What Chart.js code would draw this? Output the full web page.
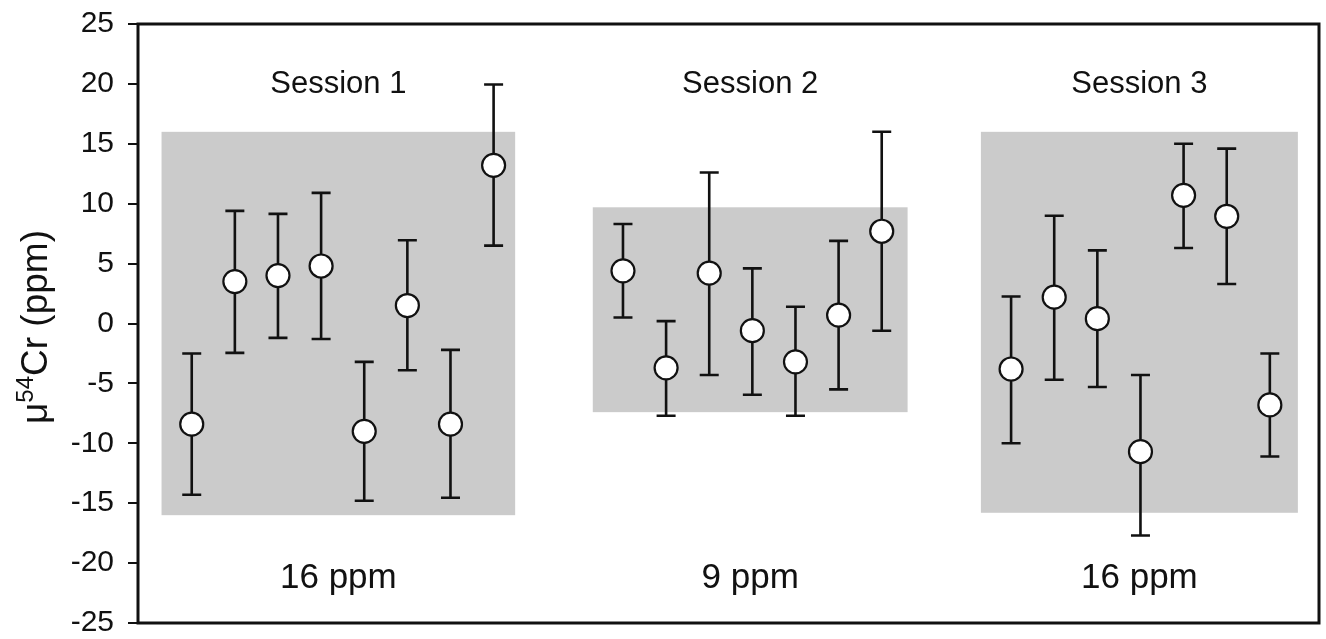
<!DOCTYPE html>
<html>
<head>
<meta charset="utf-8">
<script src="https://cdn.jsdelivr.net/npm/chart.js@4.4.1/dist/chart.umd.min.js"></script>
<style>
  html, body { margin: 0; padding: 0; background: #fff; }
  #wrap { width: 1326px; height: 639px; }
</style>
</head>
<body>
<div id="wrap"><canvas id="c" width="1326" height="639"></canvas></div>
<script>
// ---- data ----
const xPos = [1, 2, 3, 4, 5, 6, 7, 8, 11, 12, 13, 14, 15, 16, 17, 20, 21, 22, 23, 24, 25, 26];
const mu54Cr = [-8.4, 3.5, 4.0, 4.8, -9.0, 1.5, -8.4, 13.2,
                4.4, -3.7, 4.2, -0.6, -3.2, 0.7, 7.7,
                -3.8, 2.2, 0.4, -10.7, 10.7, 8.95, -6.8];
const errUpper = [-2.5, 9.4, 9.15, 10.9, -3.2, 6.95, -2.2, 19.95,
                  8.3, 0.2, 12.6, 4.6, 1.4, 6.9, 16.0,
                  2.25, 9.0, 6.1, -4.3, 15.0, 14.6, -2.5];
const errLower = [-14.3, -2.45, -1.2, -1.3, -14.8, -3.9, -14.55, 6.5,
                  0.5, -7.7, -4.3, -5.95, -7.7, -5.5, -0.6,
                  -10.0, -4.7, -5.3, -17.7, 6.3, 3.3, -11.1];
const sessionLabels = ['Session 1', 'Session 2', 'Session 3'];
const reproLabels = ['16 ppm', '9 ppm', '16 ppm'];
const boxFrom = [0.3, 10.3, 19.3];
const boxTo = [8.5, 17.6, 26.65];
const boxHigh = [16, 9.7, 16];
const boxLow = [-16, -7.4, -15.8];
const yTickValues = [-25, -20, -15, -10, -5, 0, 5, 10, 15, 20, 25];

// ---- layout constants ----
const SESSION_LABEL_Y = 19.2;   // baseline, data units
const REPRO_LABEL_Y = -22.05;   // baseline, data units
const INK = '#111';
const FONT = '"Liberation Sans", Arial, Helvetica, sans-serif';

const points = xPos.map((x, i) => ({ x: x, y: mu54Cr[i] }));

function zeroPad(scale) {
  scale.paddingTop = 0; scale.paddingBottom = 0;
  scale.paddingLeft = 0; scale.paddingRight = 0;
}

const decorPlugin = {
  id: 'decor',
  beforeDatasetsDraw(chart) {
    const { ctx, scales: { x, y } } = chart;
    ctx.save();
    ctx.fillStyle = '#cbcbcb';
    for (let i = 0; i < boxFrom.length; i++) {
      const l = x.getPixelForValue(boxFrom[i]);
      const r = x.getPixelForValue(boxTo[i]);
      const t = y.getPixelForValue(boxHigh[i]);
      const b = y.getPixelForValue(boxLow[i]);
      ctx.fillRect(l, t, r - l, b - t);
    }
    ctx.strokeStyle = INK;
    ctx.lineWidth = 2.6;
    const cap = 9.5;
    for (let i = 0; i < xPos.length; i++) {
      const px = x.getPixelForValue(xPos[i]);
      const pt = y.getPixelForValue(errUpper[i]);
      const pb = y.getPixelForValue(errLower[i]);
      ctx.beginPath();
      ctx.moveTo(px, pt); ctx.lineTo(px, pb);
      ctx.moveTo(px - cap, pt); ctx.lineTo(px + cap, pt);
      ctx.moveTo(px - cap, pb); ctx.lineTo(px + cap, pb);
      ctx.stroke();
    }
    ctx.restore();
  },
  afterDraw(chart) {
    const { ctx, chartArea: a, scales: { x, y } } = chart;
    ctx.save();
    ctx.strokeStyle = INK;
    ctx.lineWidth = 3;
    ctx.strokeRect(a.left, a.top, a.right - a.left, a.bottom - a.top);
    ctx.fillStyle = INK;
    ctx.textAlign = 'center';
    ctx.textBaseline = 'alphabetic';
    for (let i = 0; i < sessionLabels.length; i++) {
      const cx = x.getPixelForValue((boxFrom[i] + boxTo[i]) / 2);
      ctx.font = '31px ' + FONT;
      ctx.fillText(sessionLabels[i], cx, y.getPixelForValue(SESSION_LABEL_Y));
      ctx.font = '35px ' + FONT;
      ctx.fillText(reproLabels[i], cx, y.getPixelForValue(REPRO_LABEL_Y));
    }
    // y-axis title with superscript
    ctx.translate(35, 327);
    ctx.rotate(-Math.PI / 2);
    const big = '37px ' + FONT, small = '24px ' + FONT;
    ctx.font = big; const w1 = ctx.measureText('\u03bc').width;
    ctx.font = small; const w2 = ctx.measureText('54').width;
    ctx.font = big; const w3 = ctx.measureText('Cr (ppm)').width;
    let sx = -(w1 + w2 + w3) / 2;
    ctx.textAlign = 'left';
    ctx.textBaseline = 'middle';
    ctx.font = big; ctx.fillText('\u03bc', sx, 2); sx += w1;
    ctx.font = small; ctx.fillText('54', sx, -9); sx += w2;
    ctx.font = big; ctx.fillText('Cr (ppm)', sx, 2);
    ctx.restore();
  }
};

new Chart(document.getElementById('c'), {
  type: 'scatter',
  data: {
    datasets: [{
      data: points,
      pointRadius: 11.5,
      pointHoverRadius: 11.5,
      pointBackgroundColor: '#ffffff',
      pointBorderColor: INK,
      pointBorderWidth: 2.2,
      showLine: false
    }]
  },
  options: {
    responsive: false,
    devicePixelRatio: 1,
    animation: false,
    events: [],
    layout: { autoPadding: false, padding: { top: 24, bottom: 16, right: 7, left: 0 } },
    plugins: { legend: { display: false }, tooltip: { enabled: false } },
    scales: {
      x: { type: 'linear', min: -0.246, max: 27.14, display: false, afterFit: zeroPad },
      y: {
        type: 'linear', min: -25, max: 25,
        afterBuildTicks(scale) { scale.ticks = yTickValues.map(v => ({ value: v })); },
        afterFit(scale) { scale.width = 138; zeroPad(scale); },
        ticks: { color: INK, font: { family: FONT, size: 30 }, padding: 14 },
        grid: { drawOnChartArea: false, drawTicks: true, tickLength: 10, color: INK, lineWidth: 2 },
        border: { display: false }
      }
    }
  },
  plugins: [decorPlugin]
});
</script>
</body>
</html>
